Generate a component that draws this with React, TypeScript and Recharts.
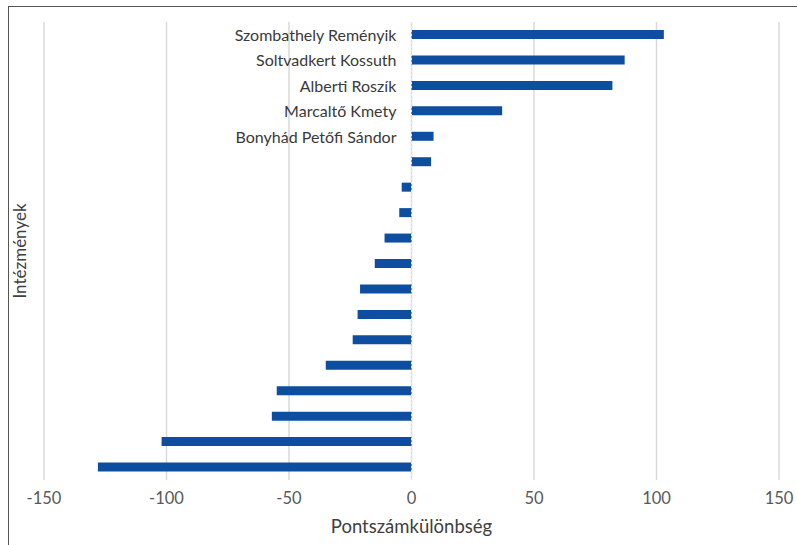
import { BarChart, Bar, XAxis, YAxis, CartesianGrid, ReferenceLine, LabelList } from "recharts";

// institutions, sorted by score difference (only the top five are named)
const names = [
  "Szombathely Reményik",
  "Soltvadkert Kossuth",
  "Alberti Roszík",
  "Marcaltő Kmety",
  "Bonyhád Petőfi Sándor",
  "", "", "", "", "", "", "", "", "", "", "", "", "",
];

const diffs = [103, 87, 82, 37, 9, 8, -4, -5, -11, -15, -21, -22, -24, -35, -55, -57, -102, -128];

const xTicks = [-150, -100, -50, 0, 50, 100, 150];

const data = names.map((name, i) => ({ id: i, name, value: diffs[i] }));

const FONT = "Lato, 'Open Sans', sans-serif";

const NameLabel = (props: any) => {
  const { x, y, height, value } = props;
  if (!value) return null;
  return (
    <text
      x={x - 15}
      y={y + height / 2}
      textAnchor="end"
      dominantBaseline="central"
      fontSize={16}
      fontFamily={FONT}
      fill="#3a3a3a"
    >
      {value}
    </text>
  );
};

export default function App() {
  return (
    <div
      style={{
        position: "absolute",
        left: 0,
        top: 0,
        width: 797,
        height: 545,
        background: "#fff",
        overflow: "hidden",
      }}
    >
      <BarChart
        width={797}
        height={545}
        data={data}
        layout="vertical"
        margin={{ top: 22, right: 18, bottom: 9, left: 8 }}
      >
        <CartesianGrid horizontal={false} stroke="#d9d9d9" strokeWidth={1.5} />
        <XAxis
          type="number"
          domain={[-150, 150]}
          ticks={xTicks}
          tickLine={false}
          axisLine={false}
          height={56}
          tick={{ fontSize: 16.5, fontFamily: FONT, fill: "#595959", dy: 4 }}
          label={{
            value: "Pontszámkülönbség",
            position: "insideBottom",
            offset: 3,
            fontSize: 18.5,
            fontFamily: FONT,
            fill: "#404040",
          }}
        />
        <YAxis
          type="category"
          dataKey="id"
          width={36}
          tick={false}
          axisLine={false}
          tickLine={false}
          label={{
            value: "Intézmények",
            angle: -90,
            position: "center",
            dx: -6,
            fontSize: 17,
            fontFamily: FONT,
            fill: "#404040",
          }}
        />
        <ReferenceLine x={0} stroke="#f3e6d6" strokeDasharray="2 2" />
        <Bar dataKey="value" fill="#0d4ea0" barSize={9} isAnimationActive={false}>
          <LabelList dataKey="name" content={NameLabel} />
        </Bar>
      </BarChart>
      {/* frame on the left and top edges */}
      <div
        style={{
          position: "absolute",
          left: 8,
          top: 6,
          right: 0,
          bottom: 0,
          borderLeft: "1.5px solid #555",
          borderTop: "1.5px solid #555",
          pointerEvents: "none",
        }}
      />
    </div>
  );
}
